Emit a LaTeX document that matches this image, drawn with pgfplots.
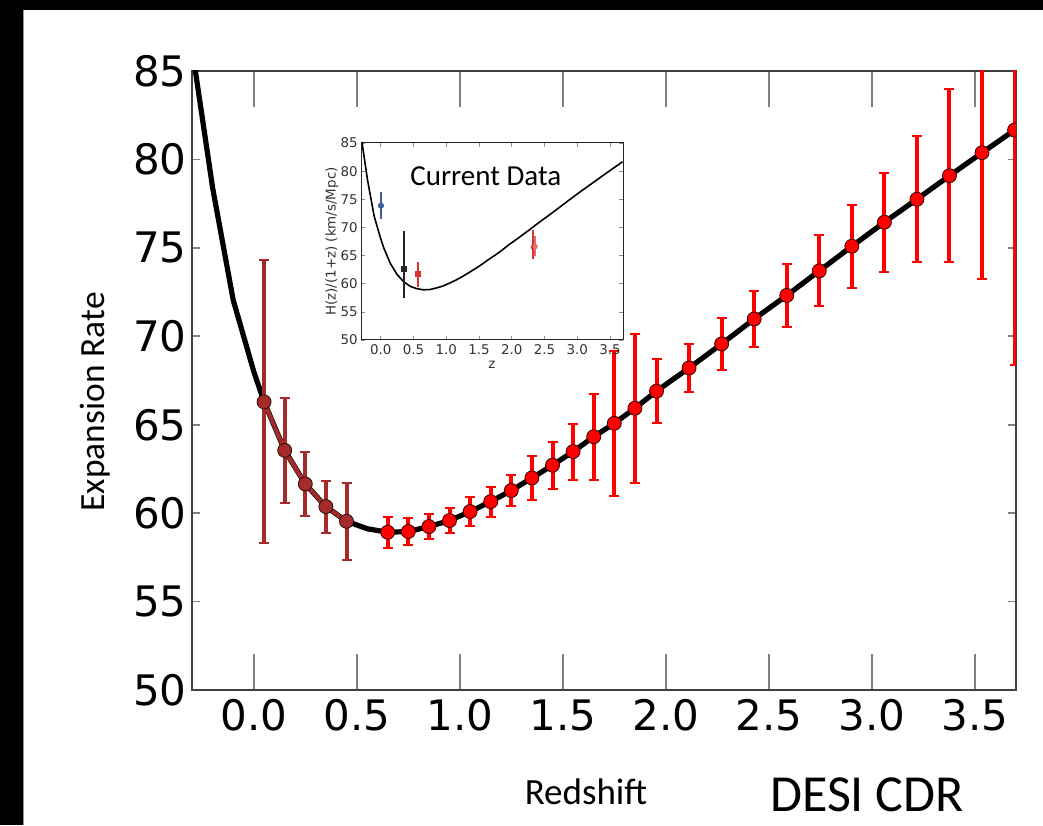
\documentclass[border=0pt]{standalone}
\usepackage{fontspec}
\setmainfont{Carlito}
\newfontfamily\dejavu{DejaVu Sans}
\usepackage{pgfplots}
\usepackage{pgfplotstable}
\pgfplotsset{compat=1.18}

\definecolor{hbrown}{HTML}{A52A2A}
\definecolor{inblue}{HTML}{3F5AA8}
\definecolor{inred}{HTML}{D83232}

% model curve H(z)/(1+z)
\pgfplotstableread{
z H
-0.30 86.30
-0.20 78.40
-0.10 72.05
0.00 68.00
0.05 66.29
0.15 63.55
0.25 61.65
0.35 60.37
0.45 59.54
0.55 59.12
0.65 58.92
0.75 58.96
0.85 59.24
0.95 59.58
1.05 60.09
1.15 60.65
1.25 61.28
1.35 61.99
1.45 62.71
1.55 63.48
1.65 64.32
1.75 65.08
1.85 65.93
1.955 66.90
2.113 68.21
2.271 69.57
2.429 70.98
2.587 72.31
2.745 73.70
2.903 75.09
3.061 76.45
3.219 77.75
3.377 79.08
3.535 80.38
3.693 81.66
}\model

% low-z points (brown)
\pgfplotstableread{
z H e
0.05 66.29 8.00
0.15 63.55 2.95
0.25 61.65 1.82
0.35 60.37 1.47
0.45 59.54 2.18
}\lowz

% DESI forecast points (red)
\pgfplotstableread{
z H e
0.65 58.92 0.87
0.75 58.96 0.75
0.85 59.24 0.72
0.95 59.58 0.73
1.05 60.09 0.83
1.15 60.65 0.85
1.25 61.28 0.86
1.35 61.99 1.25
1.45 62.71 1.32
1.55 63.48 1.58
1.65 64.32 2.42
1.75 65.08 4.10
1.85 65.93 4.22
1.955 66.90 1.80
2.113 68.21 1.36
2.271 69.57 1.47
2.429 70.98 1.58
2.587 72.31 1.78
2.745 73.70 2.00
2.903 75.09 2.35
3.061 76.45 2.80
3.219 77.75 3.55
3.377 79.08 4.88
3.535 80.38 7.14
3.693 81.66 13.30
}\desi

\begin{document}
\begin{tikzpicture}[x=1pt,y=1pt]
\useasboundingbox (0,0) rectangle (521.5,412.5);
\fill[white] (0,0) rectangle (521.5,412.5);
\fill[black] (0,407.5) rectangle (521.5,412.5);
\fill[black] (0,0) rectangle (11.5,412.5);
\draw[black!40, line width=0.4pt] (11.7,0) -- (11.7,407.5);

\begin{axis}[
  at={(96pt,67.5pt)}, anchor=south west,
  scale only axis, width=412pt, height=309.5pt,
  xmin=-0.3, xmax=3.7, ymin=50, ymax=85,
  xtick={0,0.5,...,3.5}, ytick={50,55,...,85},
  tick align=inside,
  axis line style={draw=black!75, line width=1pt},
  tick style={draw=black!50, line width=0.8pt},
  major tick length=4pt,
  xtick style={/pgfplots/major tick length=18pt},
  xticklabel style={font=\dejavu\fontsize{21}{21}\selectfont, inner sep=0pt, yshift=-4.5pt,
    /pgf/number format/.cd, fixed, fixed zerofill, precision=1, assume math mode=true},
  yticklabel style={font=\dejavu\fontsize{21}{21}\selectfont, inner sep=0pt, xshift=-2.5pt,
    /pgf/number format/assume math mode=true},
  clip marker paths=true,
]
\addplot[black, line width=2.6pt, line join=round] table[x=z, y=H] \model;
\addplot[hbrown, line width=2pt, line join=round] table[x=z, y=H] \lowz;
\addplot[only marks, mark=*, mark size=3.5pt,
  mark options={fill=hbrown, draw=black!75!hbrown, line width=0.4pt},
  error bars/.cd, y dir=both, y explicit,
  error bar style={hbrown, line width=2pt},
  error mark options={rotate=90, hbrown, line width=1pt, mark size=2.5pt}]
  table[x=z, y=H, y error=e] \lowz;
\addplot[only marks, mark=*, mark size=3.5pt,
  mark options={fill=red, draw=black!80!red, line width=0.4pt},
  error bars/.cd, y dir=both, y explicit,
  error bar style={red, line width=2pt},
  error mark options={rotate=90, red, line width=1pt, mark size=2.5pt}]
  table[x=z, y=H, y error=e] \desi;
\end{axis}

\begin{axis}[
  at={(180.5pt,242.5pt)}, anchor=south west,
  scale only axis, width=131pt, height=98.5pt,
  xmin=-0.3, xmax=3.7, ymin=50, ymax=85,
  xtick={0,0.5,...,3.5}, ytick={50,55,...,85},
  axis background/.style={fill=white},
  tick align=inside,
  axis line style={draw=black!85, line width=0.5pt},
  tick style={draw=black!45, line width=0.3pt},
  major tick length=2pt,
  xticklabel style={font=\dejavu\fontsize{6.7}{7}\selectfont, text=black!80, inner sep=0pt, yshift=-2pt,
    /pgf/number format/.cd, fixed, fixed zerofill, precision=1, assume math mode=true},
  yticklabel style={font=\dejavu\fontsize{6.7}{7}\selectfont, text=black!80, inner sep=0pt, xshift=-1.5pt,
    /pgf/number format/assume math mode=true},
  xlabel={z}, ylabel={H(z)/(1+z) (km/s/Mpc)},
  label style={font=\dejavu\fontsize{6.7}{7}\selectfont, text=black!80},
  xlabel style={at={(axis description cs:0.5,-0.127)}, anchor=center},
  ylabel style={at={(axis description cs:-0.111,0.5)}, anchor=center},
]
\addplot[black, line width=0.8pt] table[x=z, y=H] \model;
\addplot[only marks, mark=*, mark size=1.3pt, inblue,
  error bars/.cd, y dir=both, y explicit, error mark=none,
  error bar style={inblue, line width=0.9pt}]
  coordinates {(0.005,73.86) +- (0,2.45)};
\addplot[only marks, mark=square*, mark size=1.3pt, black!85,
  error bars/.cd, y dir=both, y explicit, error mark=none,
  error bar style={black!85, line width=0.9pt}]
  coordinates {(0.352,62.6) += (0,6.75) -= (0,5.1)};
\addplot[only marks, mark=square*, mark size=1.3pt, inred,
  error bars/.cd, y dir=both, y explicit, error mark=none,
  error bar style={inred, line width=0.9pt}]
  coordinates {(0.565,61.76) += (0,2.04) -= (0,2.26)};
\addplot[only marks, mark=*, mark size=1.1pt, inred,
  error bars/.cd, y dir=both, y explicit, error mark=none,
  error bar style={inred, line width=0.9pt}]
  coordinates {(2.33,66.5) += (0,3.1) -= (0,2.1)};
\addplot[only marks, mark=*, mark size=1.1pt, inred!70,
  error bars/.cd, y dir=both, y explicit, error mark=none,
  error bar style={inred!70, line width=0.9pt}]
  coordinates {(2.36,66.6) += (0,1.9) -= (0,1.6)};
\end{axis}

\node[font=\fontsize{14.5}{15}\selectfont] at (242.9,324.5) {Current Data};
\node[rotate=90, font=\fontsize{17.7}{18}\selectfont] at (47.5,211.6) {Expansion Rate};
\node[font=\fontsize{18.5}{19}\selectfont] at (293,16.5) {Redshift};
\node[font=\fontsize{26}{27}\selectfont] at (433.5,15) {DESI CDR};
\end{tikzpicture}
\end{document}
